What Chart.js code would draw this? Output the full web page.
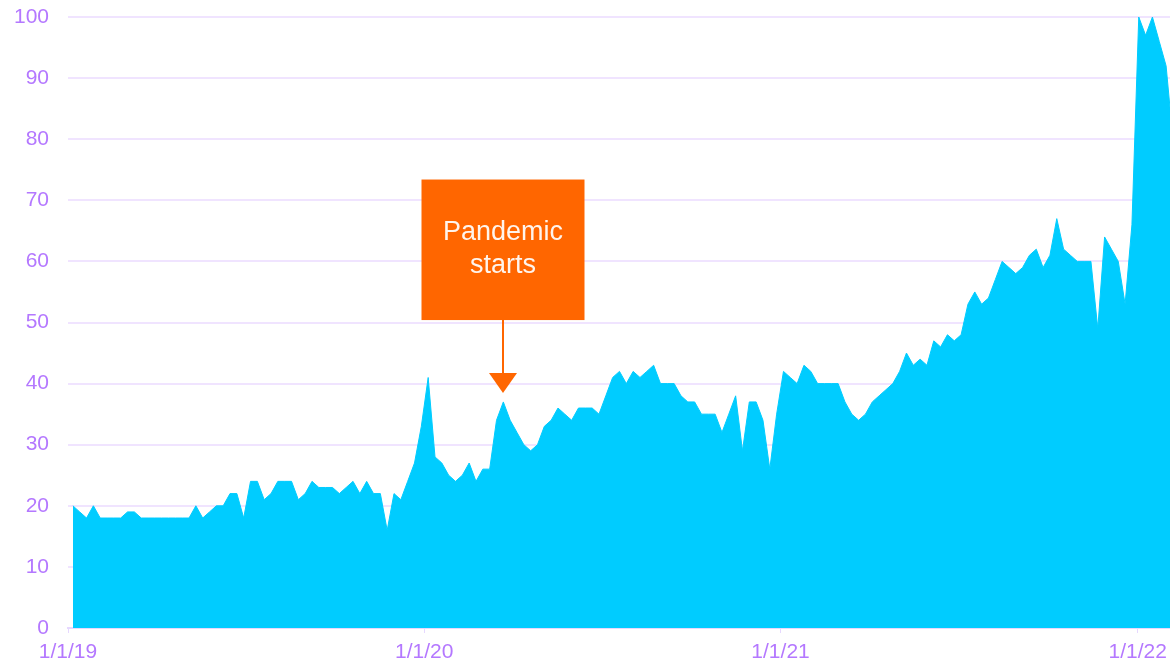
<!DOCTYPE html>
<html>
<head>
<meta charset="utf-8">
<script src="https://cdn.jsdelivr.net/npm/chart.js@4"></script>
<style>
  body { margin: 0; background: #fff; }
  canvas { display: block; }
</style>
</head>
<body>
<canvas id="grafico" width="1170" height="668"></canvas>
<script>
// valores semanais (primeira semana começa a 6/1/2019)
var primeiroDia = 5; // dias desde 1/1/19
var valores = [
  20, 19, 18, 20, 18, 18, 18, 18, 19, 19,
  18, 18, 18, 18, 18, 18, 18, 18, 20, 18,
  19, 20, 20, 22, 22, 18, 24, 24, 21, 22,
  24, 24, 24, 21, 22, 24, 23, 23, 23, 22,
  23, 24, 22, 24, 22, 22, 16, 22, 21, 24,
  27, 33, 41, 28, 27, 25, 24, 25, 27, 24,
  26, 26, 34, 37, 34, 32, 30, 29, 30, 33,
  34, 36, 35, 34, 36, 36, 36, 35, 38, 41,
  42, 40, 42, 41, 42, 43, 40, 40, 40, 38,
  37, 37, 35, 35, 35, 32, 35, 38, 29, 37,
  37, 34, 26, 35, 42, 41, 40, 43, 42, 40,
  40, 40, 40, 37, 35, 34, 35, 37, 38, 39,
  40, 42, 45, 43, 44, 43, 47, 46, 48, 47,
  48, 53, 55, 53, 54, 57, 60, 59, 58, 59,
  61, 62, 59, 61, 67, 62, 61, 60, 60, 60,
  49, 64, 62, 60, 53, 66, 100, 97, 100, 96,
  92, 80
];

// marcas do eixo x
var diasAno = [0, 365, 730, 1096];
var rotulosAno = ['1/1/19', '1/1/20', '1/1/21', '1/1/22'];

// anotação
var textoAnotacao = ['Pandemic', 'starts'];
var semanaPandemia = 63;

var pontos = valores.map(function (v, i) {
    return { x: primeiroDia + 7 * i, y: v };
});

var corTexto = '#b478ff';
var corGrelha = '#f0e4ff';

var anotacaoPlugin = {
    id: 'anotacao',
    afterDatasetsDraw: function (chart) {
        var ctx = chart.ctx;
        var sx = chart.scales.x, sy = chart.scales.y;
        var p = pontos[semanaPandemia];
        var cx = Math.round(sx.getPixelForValue(p.x));
        var ponta = sy.getPixelForValue(p.y) - 9;
        var topo = sy.getPixelForValue(73.4);
        var base = sy.getPixelForValue(50.4);
        var largura = 163;

        ctx.save();
        ctx.fillStyle = '#ff6600';
        ctx.fillRect(cx - largura / 2, topo, largura, base - topo);

        // seta
        ctx.strokeStyle = '#ff6600';
        ctx.lineWidth = 2;
        ctx.beginPath();
        ctx.moveTo(cx, base);
        ctx.lineTo(cx, ponta - 18);
        ctx.stroke();
        ctx.beginPath();
        ctx.moveTo(cx - 14, ponta - 20);
        ctx.lineTo(cx + 14, ponta - 20);
        ctx.lineTo(cx, ponta);
        ctx.closePath();
        ctx.fill();

        ctx.fillStyle = '#fff4ec';
        ctx.font = '27px "Liberation Sans", Arial, sans-serif';
        ctx.textAlign = 'center';
        ctx.textBaseline = 'middle';
        var meio = (topo + base) / 2;
        ctx.fillText(textoAnotacao[0], cx, meio - 17);
        ctx.fillText(textoAnotacao[1], cx, meio + 16);
        ctx.restore();
    }
};

var ctx = document.getElementById('grafico').getContext('2d');
var grafico = new Chart(ctx, {
    type: 'line',
    data: {
        datasets: [{
            data: pontos,
            fill: 'origin',
            backgroundColor: '#00ccff',
            borderColor: '#00ccff',
            borderWidth: 1,
            pointRadius: 0,
            tension: 0
        }]
    },
    options: {
        responsive: false,
        animation: false,
        devicePixelRatio: 1,
        layout: { padding: { top: 17, right: 0, bottom: 0, left: 0 } },
        plugins: {
            legend: { display: false },
            tooltip: { enabled: false }
        },
        scales: {
            x: {
                type: 'linear',
                min: 0,
                max: 1129,
                afterBuildTicks: function (scale) {
                    scale.ticks = diasAno.map(function (d) { return { value: d }; });
                },
                afterFit: function (scale) {
                    scale.height = 40;
                    scale.paddingRight = 0;
                    scale.paddingLeft = 0;
                },
                ticks: {
                    autoSkip: false,
                    maxRotation: 0,
                    padding: 7,
                    color: corTexto,
                    font: { family: '"Liberation Sans", Arial, sans-serif', size: 21 },
                    callback: function (v, i) { return rotulosAno[i]; }
                },
                grid: {
                    drawOnChartArea: false,
                    drawTicks: true,
                    tickLength: 5,
                    color: '#e6d8ff'
                },
                border: { display: true, color: '#e6d8ff', width: 2 }
            },
            y: {
                min: 0,
                max: 100,
                afterFit: function (scale) {
                    scale.width = 68;
                    scale.paddingTop = 0;
                    scale.paddingBottom = 0;
                },
                ticks: {
                    stepSize: 10,
                    padding: 19,
                    color: corTexto,
                    font: { family: '"Liberation Sans", Arial, sans-serif', size: 21 }
                },
                grid: {
                    color: corGrelha,
                    lineWidth: 2,
                    drawTicks: false
                },
                border: { display: false }
            }
        }
    },
    plugins: [anotacaoPlugin]
});
</script>
</body>
</html>
